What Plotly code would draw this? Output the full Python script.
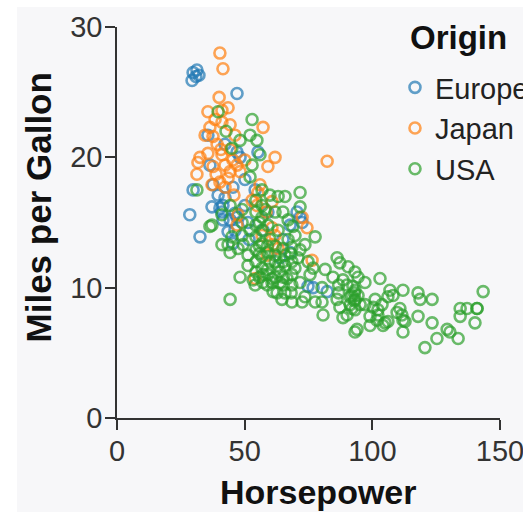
import plotly.graph_objects as go

# (horsepower, miles per gallon) readings per origin
europe = [
    (29.8, 26.5), (31.3, 26.7), (29.4, 25.9), (32.1, 26.3), (30.9, 26.2),
    (47.0, 24.9), (35.6, 21.7), (29.8, 17.5), (28.5, 15.6), (37.6, 17.9),
    (42.3, 16.9), (45.4, 17.7), (37.2, 16.2), (41.1, 15.8), (32.5, 13.9),
    (44.3, 15.2), (47.0, 15.4), (46.2, 14.4), (47.0, 20.4), (48.2, 20.0),
    (55.2, 20.4), (40.3, 16.1), (41.5, 16.3), (46.2, 15.7), (41.5, 15.2),
    (45.4, 13.4), (63.8, 12.3), (71.7, 15.4), (72.5, 15.0), (70.5, 15.8),
    (74.8, 10.1), (82.3, 9.7), (76.8, 10.0), (67.8, 12.7), (50.1, 16.3),
    (54.1, 17.5), (57.2, 14.4), (39.6, 17.1), (43.5, 14.3), (51.7, 13.7),
    (59.1, 15.8), (51.3, 15.0), (36.4, 19.4), (42.3, 21.0), (50.1, 18.3),
    (65.0, 13.7), (67.8, 14.8),
]

japan = [
    (40.3, 28.0), (41.5, 26.8), (40.0, 24.6), (35.6, 23.5), (43.5, 23.8),
    (38.4, 22.9), (41.1, 22.7), (37.6, 21.6), (46.2, 21.7), (57.2, 22.3),
    (61.9, 20.0), (59.1, 19.3), (82.3, 19.7), (32.5, 20.0), (31.7, 19.6),
    (31.3, 18.7), (37.6, 19.3), (35.6, 20.3), (41.1, 20.2), (42.3, 19.4),
    (44.3, 18.9), (47.0, 19.4), (43.5, 18.4), (42.3, 17.7), (52.9, 16.7),
    (54.8, 16.3), (47.4, 15.6), (47.0, 14.8), (60.7, 14.6), (61.9, 14.0),
    (61.1, 13.3), (63.1, 13.0), (58.8, 12.5), (54.1, 10.7), (72.5, 15.4),
    (74.4, 14.6), (76.4, 12.1), (60.7, 16.6), (39.2, 21.0), (40.7, 20.6),
    (44.3, 20.6), (45.4, 19.8), (38.8, 18.7), (40.3, 18.1), (48.2, 18.9),
    (50.1, 19.8), (36.4, 22.3), (44.3, 22.5), (41.1, 23.6), (37.2, 17.9),
    (45.8, 17.1), (56.8, 14.0), (58.4, 15.8), (55.2, 17.3), (56.0, 17.9),
    (34.5, 21.7),
]

usa = [
    # light, economical cars
    (39.6, 23.5), (52.9, 22.9), (52.1, 21.7), (54.8, 21.3), (56.0, 20.2),
    (45.0, 20.7), (42.7, 22.0), (48.2, 21.3), (31.3, 17.5), (36.4, 14.7),
    (41.1, 15.6), (43.5, 13.3), (47.4, 13.0), (45.0, 13.9), (49.4, 13.3),
    (37.2, 14.8), (44.3, 12.7), (48.2, 10.8), (44.3, 9.1), (41.1, 13.3),
    (44.3, 16.3), (49.0, 16.0), (49.0, 15.0), (49.0, 14.0), (52.9, 19.4),
    (52.1, 18.5), (63.1, 17.0), (65.8, 17.0), (71.7, 17.3), (65.0, 15.8),
    (71.7, 16.2), (68.9, 14.7), (69.7, 14.0), (77.6, 13.9), (68.5, 13.1),
    (71.7, 12.9), (76.8, 11.5), (70.9, 12.3), (69.7, 11.5), (68.5, 11.0),
    (73.6, 13.3), (74.8, 12.0), (75.6, 11.0), (67.0, 15.2), (67.0, 13.7),
    (65.8, 12.5), (68.5, 12.0), (68.5, 8.9), (72.5, 8.9), (77.6, 8.9),
    (62.7, 9.6), (65.8, 9.6), (64.6, 9.1), (61.1, 9.7), (54.1, 10.2),
    (57.2, 10.4), (60.7, 10.4), (53.3, 10.6), (57.2, 11.0), (60.7, 10.7),
    # mid-size block
    (56.8, 17.5), (54.4, 16.7), (56.8, 16.3), (54.4, 15.8), (56.8, 15.4),
    (54.4, 14.8), (56.8, 14.4), (54.4, 13.9), (56.8, 13.4), (54.4, 12.9),
    (56.8, 12.4), (54.4, 12.0), (56.8, 11.5), (54.4, 11.2), (51.3, 12.5),
    (51.3, 11.7), (52.1, 14.4), (59.1, 14.8), (59.9, 13.7), (59.1, 12.7),
    (59.9, 12.0), (61.9, 12.5), (63.1, 11.7), (63.8, 11.2), (65.8, 11.7),
    (66.6, 10.7), (68.5, 10.2), (71.7, 10.4), (59.1, 11.0), (63.8, 10.4),
    (58.0, 16.0), (59.9, 17.1), (61.9, 15.8), (63.1, 14.4), (65.0, 13.0),
    (55.8, 15.0), (55.8, 13.2), (55.8, 12.6), (55.8, 10.8), (58.9, 13.2),
    (58.9, 11.4), (58.9, 10.2), (62.0, 13.2), (62.0, 12.0), (62.0, 10.8),
    (65.1, 12.0), (65.1, 10.8), (65.1, 10.2), (68.2, 12.6), (68.2, 9.6),
    # larger engines
    (86.2, 12.3), (87.3, 11.9), (90.5, 11.6), (93.2, 11.2), (94.4, 10.8),
    (84.6, 10.8), (88.5, 10.6), (90.1, 10.2), (80.3, 10.0), (92.0, 9.4),
    (93.2, 9.1), (95.2, 8.7), (87.3, 8.5), (90.1, 7.9), (80.7, 7.9),
    (93.2, 6.6), (103.0, 10.7), (106.9, 9.8), (108.1, 9.4), (109.7, 8.1),
    (100.3, 8.5), (102.2, 7.9), (105.0, 7.3), (97.1, 8.7), (99.1, 7.8),
    (101.8, 7.5), (106.1, 7.4), (73.6, 9.3), (80.3, 8.9), (86.2, 9.1),
    (88.5, 7.7), (92.4, 10.1), (91.3, 9.3), (92.0, 8.4), (97.1, 10.4),
    (81.5, 11.4), (93.2, 9.8), (93.2, 8.3), (91.3, 8.7), (94.4, 9.4),
    (93.0, 9.0), (93.0, 9.6), (86.8, 9.6), (86.8, 10.2),
    # big V8s
    (143.4, 9.7), (141.0, 8.4), (141.0, 8.4), (137.1, 8.4), (134.4, 8.4),
    (134.4, 7.8), (140.2, 7.3), (133.6, 6.1), (130.4, 6.6), (129.3, 6.8),
    (125.3, 6.1), (123.4, 7.3), (123.4, 9.1), (118.7, 9.1), (117.9, 9.6),
    (117.9, 7.8), (120.6, 5.4), (112.8, 7.4), (112.0, 6.6), (112.0, 9.8),
    (112.0, 7.5), (110.8, 8.4), (111.6, 7.9), (106.1, 9.3), (104.2, 7.1),
    (102.2, 8.3), (101.1, 9.1), (103.8, 8.7), (99.1, 7.1), (94.0, 6.8),
]

origins = ["Europe", "Japan", "USA"]
series = [europe, japan, usa]
colors = ["#1f77b4", "#ff7f0e", "#2ca02c"]

x_ticks = [0, 50, 100, 150]
y_ticks = [0, 10, 20, 30]

fig = go.Figure()
for name, pts, color in zip(origins, series, colors):
    fig.add_trace(go.Scatter(
        x=[p[0] for p in pts],
        y=[p[1] for p in pts],
        mode="markers",
        name=name,
        legendgroup=name,
        marker=dict(symbol="circle-open", size=11, color=color,
                    opacity=0.7, line=dict(width=2.6, color=color)),
    ))

axis_common = dict(
    showgrid=False, zeroline=False, showline=True,
    linecolor="#333", linewidth=1.5,
    ticks="outside", ticklen=10, tickwidth=1.5, tickcolor="#333",
    tickfont=dict(size=29, color="#333"),
    ticklabeloverflow="allow",
)

fig.update_layout(
    width=523, height=512,
    margin=dict(l=117, r=23, t=27, b=94, autoexpand=False),
    paper_bgcolor="white",
    plot_bgcolor="rgba(0,0,0,0)",
    font=dict(family="Liberation Sans, Arial, sans-serif", size=29, color="#222"),
    xaxis=dict(range=[0, 150], tickvals=x_ticks, ticklabelstandoff=-4, **axis_common),
    yaxis=dict(range=[0, 30], tickvals=y_ticks, ticklabelstandoff=-3, **axis_common),
    legend=dict(
        x=0.7258, y=0.9105, xanchor="left", yanchor="top",
        bgcolor="rgba(0,0,0,0)",
        font=dict(size=29, color="#222"),
        traceorder="grouped", tracegroupgap=0,
    ),
    shapes=[dict(
        type="rect", xref="paper", yref="paper",
        x0=-0.2611, x1=1.0601, y0=-0.2404, y1=1.0512,
        fillcolor="#f7f7f9", line=dict(width=0), layer="below",
    )],
    annotations=[
        dict(text="<b>Origin</b>", xref="paper", yref="paper",
             x=(408 - 117) / 383, y=(418 - 37) / 391, xanchor="left", yanchor="middle",
             showarrow=False, font=dict(size=33, color="#111")),
        dict(text="<b>Horsepower</b>", xref="paper", yref="paper",
             x=0.5274, y=-0.1893, xanchor="center", yanchor="middle",
             showarrow=False, font=dict(size=34, color="#111")),
        dict(text="<b>Miles per Gallon</b>", xref="paper", yref="paper",
             x=-0.2063, y=0.5384, xanchor="center", yanchor="middle",
             textangle=-90, showarrow=False, font=dict(size=35, color="#111")),
    ],
)

fig.write_html("out.html")
